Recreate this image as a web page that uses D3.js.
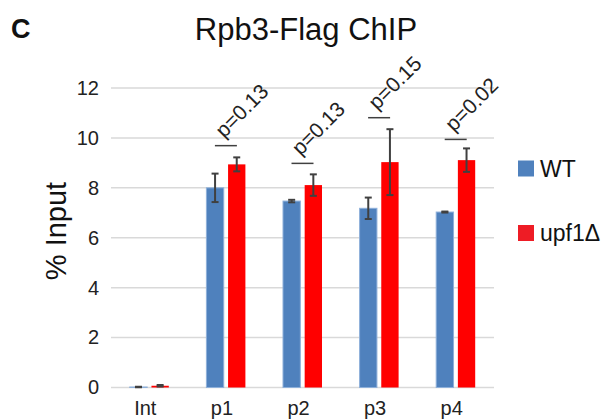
<!DOCTYPE html>
<html>
<head>
<meta charset="utf-8">
<script src="https://cdn.jsdelivr.net/npm/d3@7"></script>
<style>
  body { margin: 0; background: #fff; }
  text { font-family: "Liberation Sans", Arial, sans-serif; }
</style>
</head>
<body>
<script>
// values
var categories = ["Int", "p1", "p2", "p3", "p4"];
var series = ["WT", "upf1\u0394"];
var wtValues = [0.02, 8.00, 7.47, 7.18, 7.03];
var wtErrors = [0.01, 0.57, 0.05, 0.43, 0.02];
var upfValues = [0.07, 8.94, 8.11, 9.03, 9.11];
var upfErrors = [0.03, 0.28, 0.43, 1.32, 0.47];
var pLabels = [null, "p=0.13", "p=0.13", "p=0.15", "p=0.02"];
var pLineLevel = [null, 9.69, 8.98, 10.81, 9.94];
var yTicks = [0, 2, 4, 6, 8, 10, 12];

var width = 616, height = 419;
var colors = ["#4f81bd", "#ff0000"],
    legendColors = ["#4f81bd", "#ee1c25"];

var svg = d3.select("body").append("svg")
    .attr("width", width)
    .attr("height", height);

var y = d3.scaleLinear().domain([0, 12]).range([387.5, 88]);
var x = d3.scaleBand().domain(categories).range([111, 494]);
var x1 = d3.scaleBand().domain(series).range([-19.5, 19.5]).paddingInner(0.2);

// gridlines
svg.append("g").selectAll("line")
    .data(yTicks)
    .enter().append("line")
    .attr("x1", 111).attr("x2", 494)
    .attr("y1", function (d) { return y(d); })
    .attr("y2", function (d) { return y(d); })
    .attr("stroke", "#d9d9d9")
    .attr("stroke-width", 1.5);

// y tick labels
var yAxis = svg.append("g")
    .attr("transform", "translate(111,0)")
    .call(d3.axisLeft(y).tickValues(yTicks).tickSize(0).tickPadding(12));
yAxis.select(".domain").remove();
yAxis.selectAll("text")
    .style("font-family", "'Liberation Sans', Arial, sans-serif")
    .style("font-size", "20px")
    .attr("fill", "#222");

// x labels
svg.append("g").selectAll("text")
    .data(categories)
    .enter().append("text")
    .attr("x", function (d) { return x(d) + x.bandwidth() / 2 - 4; })
    .attr("y", 415)
    .attr("text-anchor", "middle")
    .style("font-size", "20px")
    .attr("fill", "#222")
    .text(function (d) { return d; });

var rows = categories.map(function (c, i) {
    return [
        { cat: c, s: series[0], v: wtValues[i], e: wtErrors[i], k: 0 },
        { cat: c, s: series[1], v: upfValues[i], e: upfErrors[i], k: 1 }
    ];
});
var flat = [].concat.apply([], rows);

var groups = svg.append("g").selectAll("g")
    .data(flat)
    .enter().append("g")
    .attr("transform", function (d) {
        return "translate(" + (x(d.cat) + x.bandwidth() / 2) + ",0)";
    });

groups.append("rect")
    .attr("x", function (d) { return x1(d.s); })
    .attr("width", x1.bandwidth())
    .attr("y", function (d) { return y(d.v); })
    .attr("height", function (d) { return y(0) - y(d.v); })
    .attr("fill", function (d) { return colors[d.k]; })
    .attr("stroke", function (d) { return d.k === 0 ? "#8eb0da" : "none"; })
    .attr("stroke-width", 1);

// error bars
groups.each(function (d) {
    var g = d3.select(this);
    var cx = x1(d.s) + x1.bandwidth() / 2;
    var top = y(d.v + d.e), bot = y(d.v - d.e);
    g.append("line")
        .attr("x1", cx).attr("x2", cx)
        .attr("y1", top).attr("y2", bot)
        .attr("stroke", "#404040").attr("stroke-width", 2);
    [top, bot].forEach(function (yy) {
        g.append("line")
            .attr("x1", cx - 3.5).attr("x2", cx + 3.5)
            .attr("y1", yy).attr("y2", yy)
            .attr("stroke", "#404040").attr("stroke-width", 2);
    });
});

// significance lines and p values
var sig = categories.map(function (c, i) {
    return { cat: c, p: pLabels[i], lvl: pLineLevel[i] };
}).filter(function (d) { return d.p; });

var sg = svg.append("g").selectAll("g")
    .data(sig)
    .enter().append("g")
    .attr("transform", function (d) {
        return "translate(" + (x(d.cat) + x.bandwidth() / 2) + "," + y(d.lvl) + ")";
    });
sg.append("line")
    .attr("x1", -11).attr("x2", 11)
    .attr("y1", 0).attr("y2", 0)
    .attr("stroke", "#404040").attr("stroke-width", 1.5);
sg.append("text")
    .attr("transform", "translate(-2,-7) rotate(-45)")
    .style("font-size", "21px")
    .attr("fill", "#222")
    .text(function (d) { return d.p; });

// title, panel letter, y label
svg.append("text")
    .attr("x", 306).attr("y", 40)
    .attr("text-anchor", "middle")
    .style("font-size", "31px")
    .attr("fill", "#111")
    .text("Rpb3-Flag ChIP");

svg.append("text")
    .attr("x", 11).attr("y", 38)
    .style("font-size", "27px")
    .style("font-weight", "bold")
    .attr("fill", "#111")
    .text("C");

svg.append("text")
    .attr("transform", "translate(66,231) rotate(-90)")
    .attr("text-anchor", "middle")
    .style("font-size", "29px")
    .attr("fill", "#111")
    .text("% Input");

// legend
var legend = svg.append("g").selectAll("g")
    .data(series)
    .enter().append("g")
    .attr("transform", function (d, i) { return "translate(518," + (160.5 + i * 64.5) + ")"; });
legend.append("rect")
    .attr("width", 16).attr("height", 16)
    .attr("fill", function (d, i) { return legendColors[i]; });
legend.append("text")
    .attr("x", 22).attr("y", 16)
    .style("font-size", "23px")
    .attr("fill", "#111")
    .text(function (d) { return d; });
</script>
</body>
</html>
